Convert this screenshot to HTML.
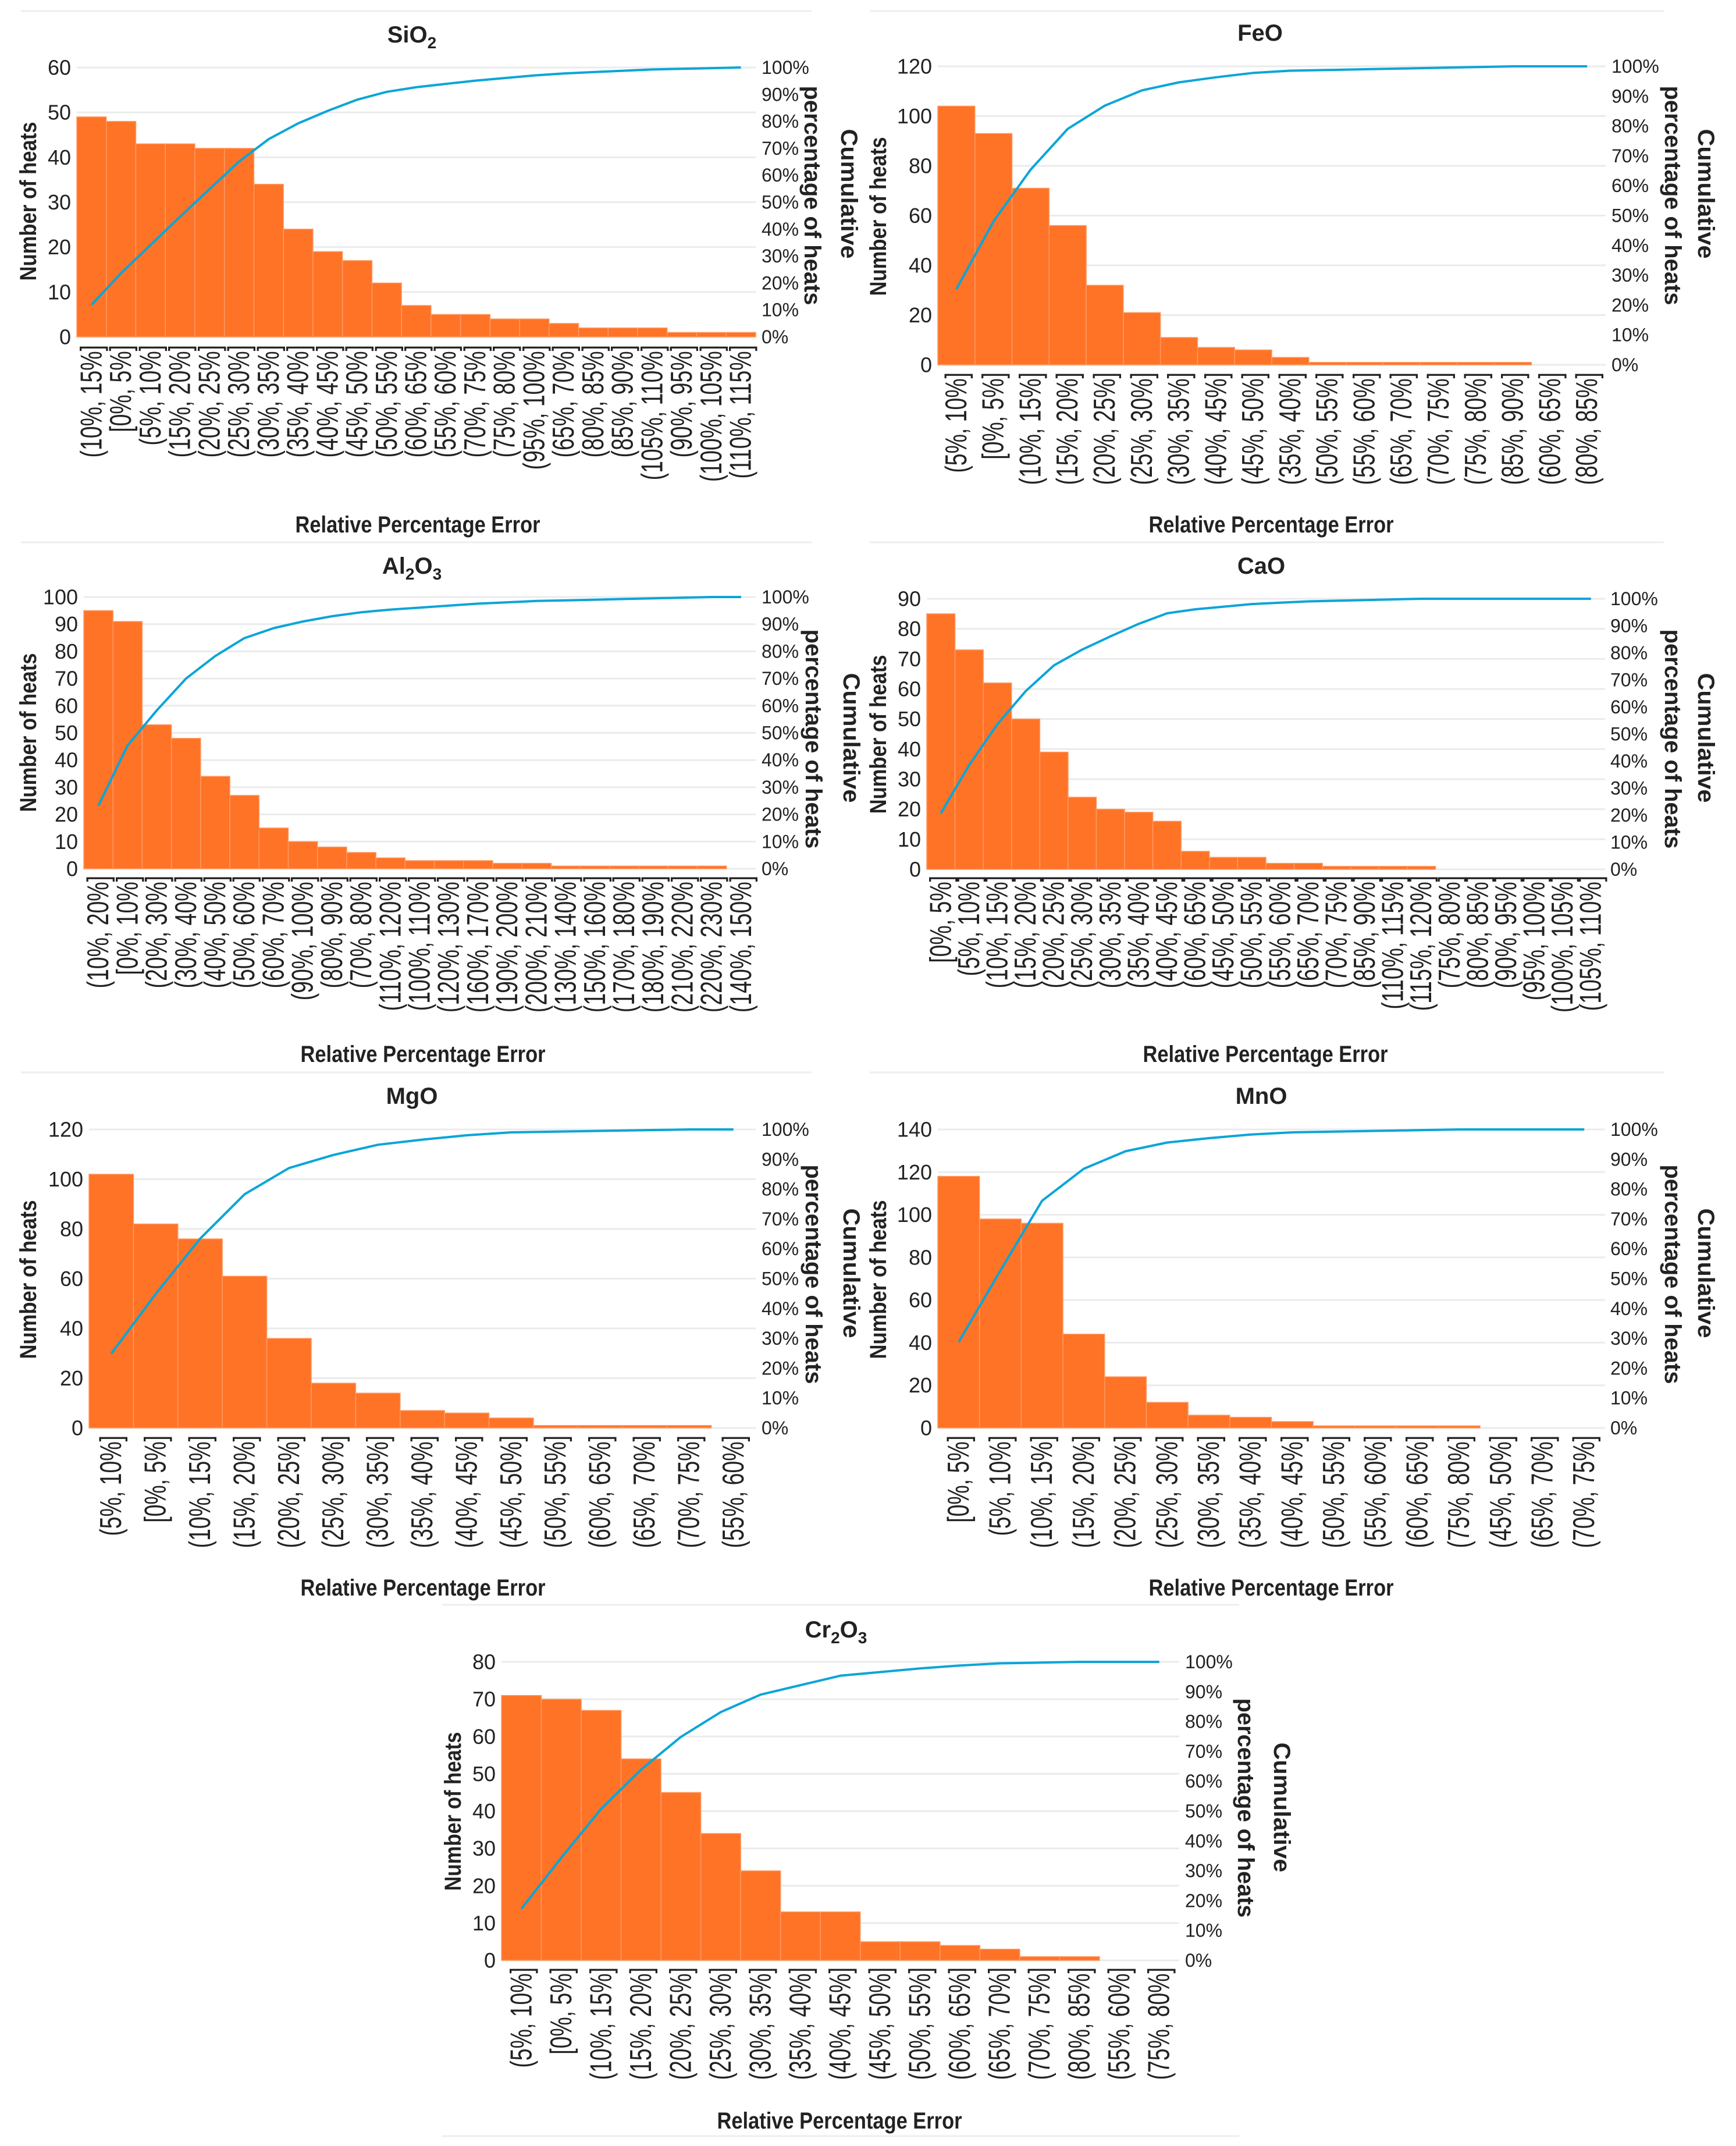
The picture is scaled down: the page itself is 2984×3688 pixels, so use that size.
<!DOCTYPE html>
<html><head><meta charset="utf-8"><style>
html,body{margin:0;padding:0;background:#fff;}
svg{display:block;}
text{font-family:"Liberation Sans",sans-serif;}
</style></head><body>
<svg id="fig" width="2984" height="3688" viewBox="0 0 2984 3688" xmlns="http://www.w3.org/2000/svg"></svg>
<script>
// ---- data ----
const sio2Cats=["(10%, 15%]","[0%, 5%]","(5%, 10%]","(15%, 20%]","(20%, 25%]","(25%, 30%]","(30%, 35%]","(35%, 40%]","(40%, 45%]","(45%, 50%]","(50%, 55%]","(60%, 65%]","(55%, 60%]","(70%, 75%]","(75%, 80%]","(95%, 100%]","(65%, 70%]","(80%, 85%]","(85%, 90%]","(105%, 110%]","(90%, 95%]","(100%, 105%]","(110%, 115%]"];
const sio2Counts=[49,48,43,43,42,42,34,24,19,17,12,7,5,5,4,4,3,2,2,2,1,1,1];
const sio2Ticks=[0,10,20,30,40,50,60];
const feoCats=["(5%, 10%]","[0%, 5%]","(10%, 15%]","(15%, 20%]","(20%, 25%]","(25%, 30%]","(30%, 35%]","(40%, 45%]","(45%, 50%]","(35%, 40%]","(50%, 55%]","(55%, 60%]","(65%, 70%]","(70%, 75%]","(75%, 80%]","(85%, 90%]","(60%, 65%]","(80%, 85%]"];
const feoCounts=[104,93,71,56,32,21,11,7,6,3,1,1,1,1,1,1,0,0];
const feoTicks=[0,20,40,60,80,100,120];
const al2o3Cats=["(10%, 20%]","[0%, 10%]","(20%, 30%]","(30%, 40%]","(40%, 50%]","(50%, 60%]","(60%, 70%]","(90%, 100%]","(80%, 90%]","(70%, 80%]","(110%, 120%]","(100%, 110%]","(120%, 130%]","(160%, 170%]","(190%, 200%]","(200%, 210%]","(130%, 140%]","(150%, 160%]","(170%, 180%]","(180%, 190%]","(210%, 220%]","(220%, 230%]","(140%, 150%]"];
const al2o3Counts=[95,91,53,48,34,27,15,10,8,6,4,3,3,3,2,2,1,1,1,1,1,1,0];
const al2o3Ticks=[0,10,20,30,40,50,60,70,80,90,100];
const caoCats=["[0%, 5%]","(5%, 10%]","(10%, 15%]","(15%, 20%]","(20%, 25%]","(25%, 30%]","(30%, 35%]","(35%, 40%]","(40%, 45%]","(60%, 65%]","(45%, 50%]","(50%, 55%]","(55%, 60%]","(65%, 70%]","(70%, 75%]","(85%, 90%]","(110%, 115%]","(115%, 120%]","(75%, 80%]","(80%, 85%]","(90%, 95%]","(95%, 100%]","(100%, 105%]","(105%, 110%]"];
const caoCounts=[85,73,62,50,39,24,20,19,16,6,4,4,2,2,1,1,1,1,0,0,0,0,0,0];
const caoTicks=[0,10,20,30,40,50,60,70,80,90];
const mgoCats=["(5%, 10%]","[0%, 5%]","(10%, 15%]","(15%, 20%]","(20%, 25%]","(25%, 30%]","(30%, 35%]","(35%, 40%]","(40%, 45%]","(45%, 50%]","(50%, 55%]","(60%, 65%]","(65%, 70%]","(70%, 75%]","(55%, 60%]"];
const mgoCounts=[102,82,76,61,36,18,14,7,6,4,1,1,1,1,0];
const mgoTicks=[0,20,40,60,80,100,120];
const mnoCats=["[0%, 5%]","(5%, 10%]","(10%, 15%]","(15%, 20%]","(20%, 25%]","(25%, 30%]","(30%, 35%]","(35%, 40%]","(40%, 45%]","(50%, 55%]","(55%, 60%]","(60%, 65%]","(75%, 80%]","(45%, 50%]","(65%, 70%]","(70%, 75%]"];
const mnoCounts=[118,98,96,44,24,12,6,5,3,1,1,1,1,0,0,0];
const mnoTicks=[0,20,40,60,80,100,120,140];
const cr2o3Cats=["(5%, 10%]","[0%, 5%]","(10%, 15%]","(15%, 20%]","(20%, 25%]","(25%, 30%]","(30%, 35%]","(35%, 40%]","(40%, 45%]","(45%, 50%]","(50%, 55%]","(60%, 65%]","(65%, 70%]","(70%, 75%]","(80%, 85%]","(55%, 60%]","(75%, 80%]"];
const cr2o3Counts=[71,70,67,54,45,34,24,13,13,5,5,4,3,1,1,0,0];
const cr2o3Ticks=[0,10,20,30,40,50,60,70,80];
const pctTicks=[0,10,20,30,40,50,60,70,80,90,100];

// ---- layout (positions only) ----
const NS="http://www.w3.org/2000/svg";
const svg=document.getElementById('fig');
function mk(tag,attrs,parent,txt){const e=document.createElementNS(NS,tag);for(const k in attrs)e.setAttribute(k,attrs[k]);if(txt!==undefined)e.textContent=txt;(parent||svg).appendChild(e);return e;}

const charts=[
 {key:'sio2',title:['SiO','2'],cats:sio2Cats,counts:sio2Counts,ticks:sio2Ticks,L:132,R:1299,T:116,B:579,tx:708,ty:59,ytx:48,ytc:346,rt:1309,px:1397,cx:1460,pc:336,cc:333,xl:593,xtx:718,xty:901},
 {key:'feo',title:['FeO'],cats:feoCats,counts:feoCounts,ticks:feoTicks,L:1612,R:2760,T:114,B:627,tx:2166,ty:56,ytx:1509,ytc:372,rt:2770,px:2876,cx:2933,pc:336,cc:333,xl:640,xtx:2185,xty:901},
 {key:'al2o3',title:['Al','2','O','3'],cats:al2o3Cats,counts:al2o3Counts,ticks:al2o3Ticks,L:144,R:1299,T:1026,B:1493,tx:708,ty:972,ytx:48,ytc:1259,rt:1309,px:1399,cx:1464,pc:1270,cc:1268,xl:1505,xtx:727,xty:1811},
 {key:'cao',title:['CaO'],cats:caoCats,counts:caoCounts,ticks:caoTicks,L:1593,R:2759,T:1029,B:1494,tx:2168,ty:972,ytx:1509,ytc:1262,rt:2768,px:2876,cx:2933,pc:1270,cc:1268,xl:1505,xtx:2175,xty:1811},
 {key:'mgo',title:['MgO'],cats:mgoCats,counts:mgoCounts,ticks:mgoTicks,L:153,R:1299,T:1941,B:2454,tx:708,ty:1883,ytx:48,ytc:2199,rt:1309,px:1399,cx:1464,pc:2190,cc:2188,xl:2467,xtx:727,xty:2728},
 {key:'mno',title:['MnO'],cats:mnoCats,counts:mnoCounts,ticks:mnoTicks,L:1612,R:2759,T:1941,B:2454,tx:2168,ty:1883,ytx:1509,ytc:2199,rt:2768,px:2876,cx:2933,pc:2190,cc:2188,xl:2467,xtx:2185,xty:2728},
 {key:'cr2o3',title:['Cr','2','O','3'],cats:cr2o3Cats,counts:cr2o3Counts,ticks:cr2o3Ticks,L:862,R:2027,T:2856,B:3369,tx:1437,ty:2800,ytx:778,ytc:3113,rt:2037,px:2142,cx:2204,pc:3107,cc:3106,xl:3381,xtx:1443,xty:3644}
];

// separators
[[36,1395,19],[1495,2860,19],[36,1395,932],[1495,2860,932],[36,1395,1843],[1495,2860,1843],[760,2130,2758],[760,2130,3671]].forEach(s=>{
  const l=mk('line',{x1:s[0],x2:s[1],y1:s[2],y2:s[2],stroke:'#eeeeee','stroke-width':3});
  
  
});

charts.forEach(c=>{
  const g=mk('g',{});
  
  
  const n=c.cats.length, bw=(c.R-c.L)/n;
  const ymax=c.ticks[c.ticks.length-1];
  const ys=v=>c.B-(v/ymax)*(c.B-c.T);
  const yp=p=>c.B-(p/100)*(c.B-c.T);
  const xc=i=>c.L+bw*(i+0.5);
  // title
  const t=mk('text',{x:c.tx,y:c.ty+14,'text-anchor':'middle','font-size':40,'font-weight':'bold',fill:'#222'},g);
  
  
  c.title.forEach((s,i)=>{mk('tspan',i%2?{'font-size':28,dy:10}:{dy:i?-10:0},t,s);});
  // grid
  c.ticks.forEach(v=>{
    const gl=mk('line',{x1:c.L,x2:c.R,y1:ys(v),y2:ys(v),stroke:'#ebebeb','stroke-width':3},g);
    
    
    const tl=mk('text',{x:c.L-10,y:ys(v),'text-anchor':'end','dominant-baseline':'central','font-size':36,fill:'#222'},g,String(v));
    
    
  });
  pctTicks.forEach(p=>{
    const tl=mk('text',{x:c.rt,y:yp(p),'dominant-baseline':'central','font-size':32,fill:'#222'},g,p+'%');
    
    
  });
  // bars
  c.counts.forEach((v,i)=>{
    if(v<=0)return;
    const r=mk('rect',{x:c.L+bw*i,y:ys(v),width:bw,height:c.B-ys(v),fill:'#ff7327',stroke:'#ff9a62','stroke-width':1.5},g);
    
    
  });
  // cumulative line
  const total=c.counts.reduce((a,b)=>a+b,0);
  let run=0;const pts=c.counts.map((v,i)=>{run+=v;return xc(i).toFixed(1)+','+yp(run/total*100).toFixed(1);});
  const pl=mk('polyline',{points:pts.join(' '),fill:'none',stroke:'#0aa5d8','stroke-width':4,'stroke-linejoin':'round'},g);
  
  
  // x labels
  c.cats.forEach((s,i)=>{
    const x=xc(i)+17;
    const tl=mk('text',{transform:`translate(${x},${c.xl}) rotate(-90) scale(0.72,1)`,'text-anchor':'end','font-family':'"DejaVu Sans","Liberation Sans",sans-serif','font-size':52,fill:'#222'},g,s);
    
    
  });
  // axis titles
  const xt=mk('text',{x:c.xtx,y:c.xty+14,'text-anchor':'middle','font-size':40,'font-weight':'bold',fill:'#222',textLength:421,lengthAdjust:'spacingAndGlyphs'},g,'Relative Percentage Error');
  
  
  const yt=mk('text',{transform:`translate(${c.ytx+14},${c.ytc}) rotate(-90)`,'text-anchor':'middle','font-size':40,'font-weight':'bold',fill:'#222',textLength:273,lengthAdjust:'spacingAndGlyphs'},g,'Number of heats');
  
  
  const pt=mk('text',{transform:`translate(${c.px-14},${c.pc}) rotate(90)`,'text-anchor':'middle','font-size':40,'font-weight':'bold',fill:'#222',textLength:377,lengthAdjust:'spacingAndGlyphs'},g,'percentage of heats');
  
  
  const ct=mk('text',{transform:`translate(${c.cx-14},${c.cc}) rotate(90)`,'text-anchor':'middle','font-size':40,'font-weight':'bold',fill:'#222',textLength:223,lengthAdjust:'spacingAndGlyphs'},g,'Cumulative');
  
  
});
</script>
</body></html>
